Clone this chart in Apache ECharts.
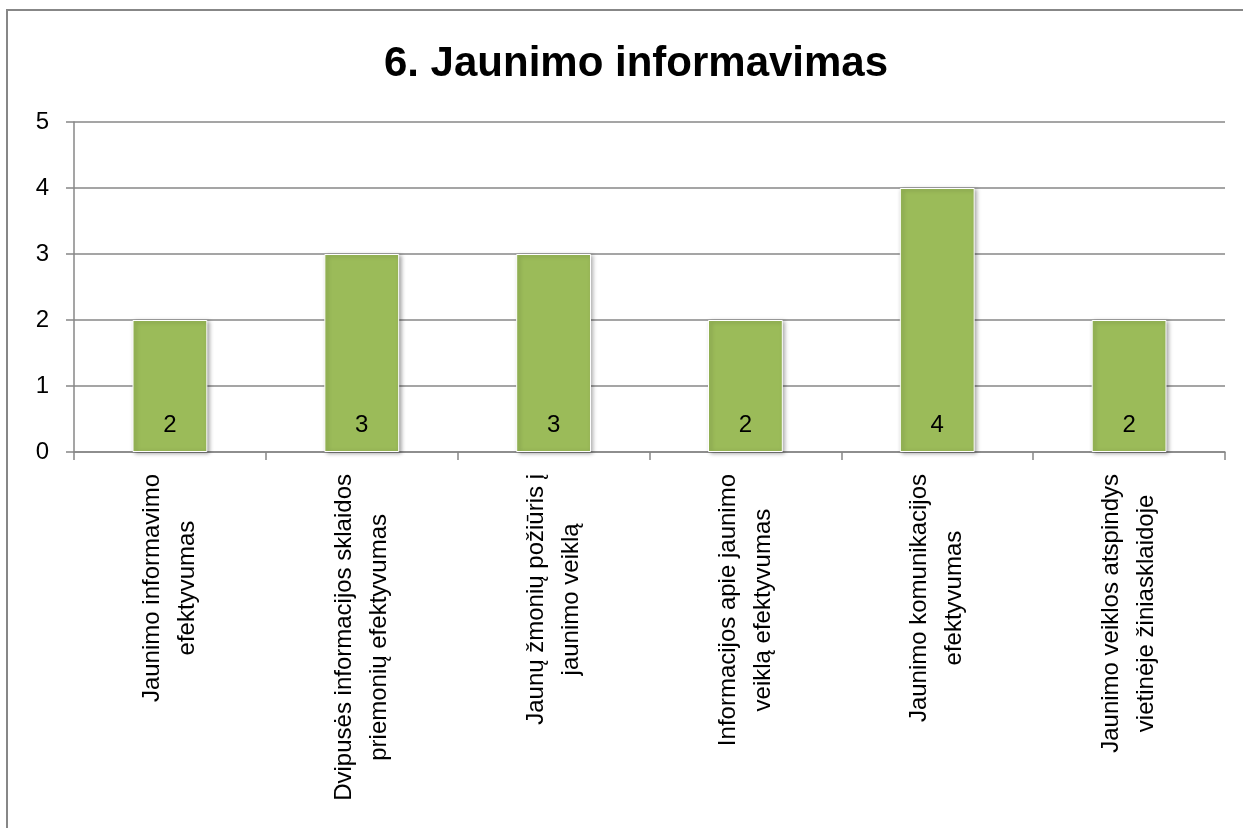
<!DOCTYPE html>
<html>
<head>
<meta charset="utf-8">
<script src="https://cdn.jsdelivr.net/npm/echarts@6/dist/echarts.min.js"></script>
<style>
html,body{margin:0;padding:0;background:#fff;}
#chart{width:1243px;height:828px;}
</style>
</head>
<body>
<div id="chart"></div>
<script>
var titleText = '6. Jaunimo informavimas';
var categories = [
  'Jaunimo informavimo\nefektyvumas',
  'Dvipusės informacijos sklaidos\npriemonių efektyvumas',
  'Jaunų žmonių požiūris į\njaunimo veiklą',
  'Informacijos apie jaunimo\nveiklą efektyvumas',
  'Jaunimo komunikacijos\nefektyvumas',
  'Jaunimo veiklos atspindys\nvietinėje žiniasklaidoje'
];
var values = [2, 3, 3, 2, 4, 2];
var yTicks = [0, 1, 2, 3, 4, 5];

var FONT = '"Liberation Sans", Arial, sans-serif';
var GRAY = '#878787';

var chart = echarts.init(document.getElementById('chart'), null, {renderer: 'canvas'});
chart.setOption({
  backgroundColor: '#ffffff',
  animation: false,
  title: {
    text: titleText,
    left: 631,
    textAlign: 'center',
    top: 38,
    textStyle: {fontFamily: FONT, fontSize: 42, fontWeight: 'bold', color: '#000'}
  },
  graphic: [{
    type: 'rect',
    shape: {x: 7, y: 10, width: 1300, height: 900},
    style: {fill: 'none', stroke: GRAY, lineWidth: 2},
    silent: true
  }],
  grid: {left: 74, right: 18, top: 122, bottom: 376, containLabel: false},
  xAxis: {
    type: 'category',
    data: categories,
    axisLine: {show: true, lineStyle: {color: GRAY, width: 1.5}},
    axisTick: {show: true, length: 8, lineStyle: {color: GRAY, width: 1.5}},
    axisLabel: {
      interval: 0,
      rotate: 90,
      margin: 22,
      color: '#000',
      fontFamily: FONT,
      fontSize: 24,
      formatter: function (v) {
        return v.split('\n').map(function (l) { return '{c|' + l + '}'; }).join('\n');
      },
      rich: {
        c: {align: 'center', fontFamily: FONT, fontSize: 24, lineHeight: 35, color: '#000'}
      }
    }
  },
  yAxis: {
    type: 'value',
    min: yTicks[0],
    max: yTicks[yTicks.length - 1],
    interval: 1,
    axisLine: {show: true, lineStyle: {color: GRAY, width: 1.5}},
    axisTick: {show: true, length: 8, lineStyle: {color: GRAY, width: 1.5}},
    splitLine: {show: true, lineStyle: {color: GRAY, width: 1.5}},
    axisLabel: {margin: 25, color: '#000', fontFamily: FONT, fontSize: 24}
  },
  series: [{
    type: 'bar',
    data: values,
    barWidth: '39%',
    itemStyle: {
      color: '#9BBB59',
      borderColor: '#ffffff',
      borderWidth: 1,
      shadowColor: 'rgba(0,0,0,0.35)',
      shadowBlur: 4,
      shadowOffsetX: 2,
      shadowOffsetY: 1
    },
    label: {
      show: true,
      position: 'insideBottom',
      distance: 15,
      color: '#000',
      fontFamily: FONT,
      fontSize: 24
    }
  }]
});
</script>
</body>
</html>
